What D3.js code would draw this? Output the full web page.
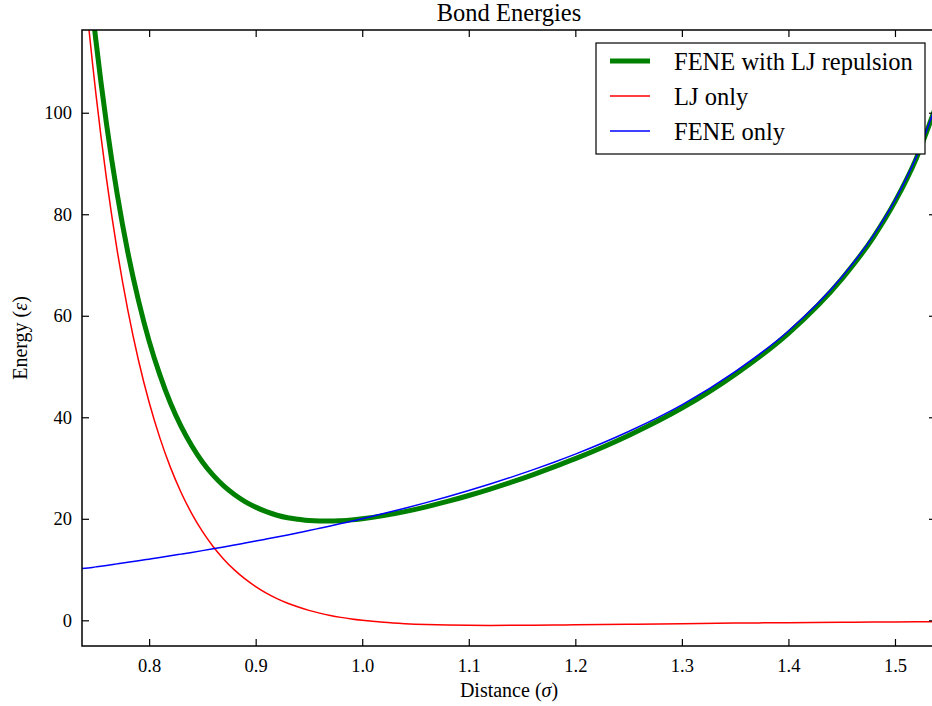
<!DOCTYPE html>
<html>
<head>
<meta charset="utf-8">
<script src="https://cdn.jsdelivr.net/npm/d3@7/dist/d3.min.js"></script>
<style>
  html, body { margin: 0; padding: 0; background: #fff; }
  svg text { font-family: "Liberation Serif", "DejaVu Serif", serif; fill: #000; }
</style>
</head>
<body>
<div id="chart"></div>
<script>
////////// Bond energy curves (energy in units of epsilon, distance in sigma) //////////
const distance = [
  0.737, 0.74, 0.75, 0.76, 0.77, 0.78, 0.79, 0.80, 0.81, 0.82,
  0.83, 0.84, 0.85, 0.86, 0.87, 0.88, 0.89, 0.90, 0.91, 0.92,
  0.93, 0.94, 0.95, 0.96, 0.97, 0.98, 0.99, 1.00, 1.02, 1.04,
  1.06, 1.08, 1.10, 1.12, 1.14, 1.16, 1.18, 1.20, 1.25, 1.30,
  1.35, 1.40, 1.45, 1.48, 1.50, 1.52, 1.54
];

const feneWithLJ = [
  141.1, 134.2, 114.3, 97.8, 84.0, 72.5, 63.0, 55.0, 48.4, 42.8,
  38.2, 34.4, 31.2, 28.6, 26.5, 24.8, 23.4, 22.3, 21.4, 20.7,
  20.2, 19.9, 19.65, 19.56, 19.55, 19.64, 19.79, 20.02, 20.63, 21.42,
  22.36, 23.42, 24.59, 25.86, 27.22, 28.67, 30.22, 31.85, 36.42, 41.8,
  48.45, 56.54, 67.22, 75.56, 82.48, 91.0, 102.2
];

const ljOnly = [
  130.9, 124.0, 103.8, 86.97, 72.9, 61.12, 51.24, 42.95, 35.99, 30.13,
  25.19, 21.03, 17.51, 14.55, 12.05, 9.93, 8.15, 6.64, 5.36, 4.28,
  3.37, 2.61, 1.96, 1.42, 0.96, 0.58, 0.26, 0.0, -0.40, -0.66,
  -0.83, -0.93, -0.98, -1.0, -0.99, -0.97, -0.93, -0.89, -0.77, -0.66,
  -0.55, -0.46, -0.38, -0.34, -0.32, -0.30, -0.28
];

const feneOnly = [
  10.2, 10.24, 10.53, 10.82, 11.12, 11.42, 11.73, 12.05, 12.37, 12.7,
  13.04, 13.38, 13.73, 14.09, 14.46, 14.83, 15.22, 15.61, 16.01, 16.41,
  16.83, 17.26, 17.69, 18.14, 18.59, 19.06, 19.53, 20.02, 21.03, 22.08,
  23.19, 24.35, 25.57, 26.86, 28.21, 29.64, 31.15, 32.74, 37.19, 42.44,
  49.0, 57.0, 67.6, 75.9, 82.8, 91.3, 102.5
];

const xTicks = [0.8, 0.9, 1.0, 1.1, 1.2, 1.3, 1.4, 1.5];
const yTicks = [0, 20, 40, 60, 80, 100];

const series = [
  { name: "FENE with LJ repulsion", values: feneWithLJ, color: "#008000", width: 5 },
  { name: "LJ only", values: ljOnly, color: "#ff0000", width: 1.5 },
  { name: "FENE only", values: feneOnly, color: "#0000ff", width: 1.5 }
];

////////// Layout //////////
const width = 932;
const height = 706;
const margin = { top: 30, left: 82, right: -4, bottom: 60 };
const plotW = width - margin.left - margin.right;
const plotH = height - margin.top - margin.bottom;

const svg = d3.select("#chart")
  .append("svg")
  .attr("width", width)
  .attr("height", height);

const x = d3.scaleLinear().domain([0.737, 1.5385]).range([0, plotW]);
const y = d3.scaleLinear().domain([-5.06, 116.3]).range([plotH, 0]);

const g = svg.append("g")
  .attr("transform", `translate(${margin.left},${margin.top})`);

g.append("clipPath").attr("id", "plotClip")
  .append("rect").attr("width", plotW).attr("height", plotH);

////////// Curves //////////
const line = d3.line()
  .x((d, i) => x(distance[i]))
  .y(d => y(d))
  .curve(d3.curveMonotoneX);

g.append("g")
  .attr("clip-path", "url(#plotClip)")
  .selectAll("path")
  .data(series)
  .enter().append("path")
  .attr("d", d => line(d.values))
  .attr("fill", "none")
  .attr("stroke", d => d.color)
  .attr("stroke-width", d => d.width)
  .attr("stroke-linejoin", "round");

////////// Axes (ticks inside, on all four sides) //////////
const tickLen = 7;
const fontSize = 18.5;

const bottomAxis = d3.axisBottom(x).tickValues(xTicks).tickFormat(d3.format(".1f"))
  .tickSizeInner(-tickLen).tickSizeOuter(0).tickPadding(13);
const topAxis = d3.axisTop(x).tickValues(xTicks).tickFormat("")
  .tickSizeInner(-tickLen).tickSizeOuter(0);
const leftAxis = d3.axisLeft(y).tickValues(yTicks).tickFormat(d3.format("d"))
  .tickSizeInner(-tickLen).tickSizeOuter(0).tickPadding(10);
const rightAxis = d3.axisRight(y).tickValues(yTicks).tickFormat("")
  .tickSizeInner(-tickLen).tickSizeOuter(0);

function styleAxis(sel) {
  sel.select(".domain").remove();
  sel.selectAll(".tick line").attr("stroke", "#000").attr("stroke-width", 1.2);
  sel.selectAll(".tick text")
    .attr("font-size", fontSize)
    .attr("font-family", "Liberation Serif, DejaVu Serif, serif")
    .attr("fill", "#000");
}

g.append("g").attr("transform", `translate(0,${plotH})`).call(bottomAxis).call(styleAxis);
g.append("g").call(topAxis).call(styleAxis);
g.append("g").call(leftAxis).call(styleAxis);
g.append("g").attr("transform", `translate(${plotW},0)`).call(rightAxis).call(styleAxis);

g.append("rect")
  .attr("width", plotW)
  .attr("height", plotH)
  .attr("fill", "none")
  .attr("stroke", "#000")
  .attr("stroke-width", 1.5);

////////// Title and labels //////////
const cx = margin.left + plotW / 2;

svg.append("text")
  .attr("x", cx)
  .attr("y", 21)
  .attr("text-anchor", "middle")
  .attr("font-size", 24.5)
  .text("Bond Energies");

const xLabel = svg.append("text")
  .attr("x", cx)
  .attr("y", 697)
  .attr("text-anchor", "middle")
  .attr("font-size", 20);
xLabel.append("tspan").text("Distance (");
xLabel.append("tspan").attr("font-style", "italic").text("σ");
xLabel.append("tspan").text(")");

const yLabel = svg.append("text")
  .attr("transform", `translate(27,${margin.top + plotH / 2}) rotate(-90)`)
  .attr("text-anchor", "middle")
  .attr("font-size", 20);
yLabel.append("tspan").text("Energy (");
yLabel.append("tspan").attr("font-style", "italic").text("ε");
yLabel.append("tspan").text(")");

////////// Legend //////////
const legend = svg.append("g").attr("transform", "translate(596,43)");

legend.append("rect")
  .attr("width", 329)
  .attr("height", 111)
  .attr("fill", "#fff")
  .attr("stroke", "#000")
  .attr("stroke-width", 1.2);

const rows = legend.selectAll("g.row")
  .data(series)
  .enter().append("g")
  .attr("class", "row")
  .attr("transform", (d, i) => `translate(0,${18 + i * 35})`);

rows.append("line")
  .attr("x1", 14).attr("x2", 54)
  .attr("stroke", d => d.color)
  .attr("stroke-width", d => d.width);

rows.append("text")
  .attr("x", 78)
  .attr("y", 9)
  .attr("font-size", 24.5)
  .text(d => d.name);
</script>
</body>
</html>
